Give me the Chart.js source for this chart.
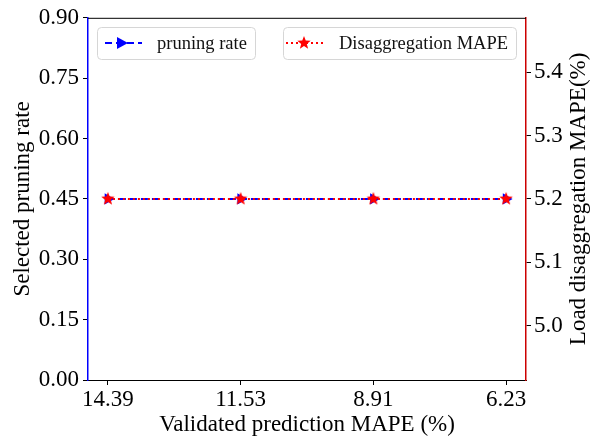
<!DOCTYPE html>
<html>
<head>
<meta charset="utf-8">
<script src="https://cdn.jsdelivr.net/npm/chart.js@4"></script>
<style>
  html, body { margin: 0; padding: 0; background: #fff; }
  #wrap { width: 593px; height: 438px; }
</style>
</head>
<body>
<div id="wrap"><canvas id="c"></canvas></div>
<script>
// data
var xLabels = ['14.39', '11.53', '8.91', '6.23'];
var pruningRate = [0.45, 0.45, 0.45, 0.45];
var disaggMape = [5.2, 5.2, 5.2, 5.2];
var leftTicks = [0, 0.15, 0.30, 0.45, 0.60, 0.75, 0.90];
var rightTicks = [5.0, 5.1, 5.2, 5.3, 5.4];

var FONT = '"Liberation Serif", "Times New Roman", serif';
var TICK = 23, TITLE = 23, LEG = 18.5;

// filled star marker
function makeStar(r, color) {
    var c = document.createElement('canvas');
    c.width = c.height = r * 2 + 2;
    var g = c.getContext('2d');
    g.fillStyle = color;
    g.beginPath();
    for (var i = 0; i < 10; i++) {
        var rad = i % 2 === 0 ? r : r * 0.42;
        var a = -Math.PI / 2 + i * Math.PI / 5;
        var x = r + 1 + rad * Math.cos(a), y = r + 1 + rad * Math.sin(a);
        if (i === 0) g.moveTo(x, y); else g.lineTo(x, y);
    }
    g.closePath();
    g.fill();
    return c;
}
var star = makeStar(7, '#ff0000');

function pts(arr) {
    return arr.map(function(v, i) { return {x: i, y: v}; });
}

var frame = {
    id: 'frame',
    afterDraw: function(chart) {
        var ctx = chart.ctx, a = chart.chartArea;
        ctx.save();
        ctx.strokeStyle = '#000';
        ctx.lineWidth = 1;
        ctx.beginPath();
        ctx.moveTo(a.left, a.top + 0.5);
        ctx.lineTo(a.right, a.top + 0.5);
        ctx.stroke();

        // axis titles
        ctx.fillStyle = '#000';
        ctx.font = TITLE + 'px ' + FONT;
        ctx.textAlign = 'center';
        ctx.textBaseline = 'middle';
        ctx.fillText('Validated prediction MAPE (%)', (a.left + a.right) / 2, 425);
        ctx.save();
        ctx.translate(23, (a.top + a.bottom) / 2);
        ctx.rotate(-Math.PI / 2);
        ctx.fillText('Selected pruning rate', 0, 0);
        ctx.restore();
        ctx.save();
        ctx.translate(579, (a.top + a.bottom) / 2);
        ctx.rotate(-Math.PI / 2);
        ctx.fillText('Load disaggregation MAPE(%)', 0, 0);
        ctx.restore();

        // two legend boxes
        function box(x, y, w, h) {
            ctx.beginPath();
            ctx.lineWidth = 1;
            ctx.strokeStyle = '#d6d6d6';
            ctx.fillStyle = 'rgba(255,255,255,0.8)';
            ctx.roundRect(x + 0.5, y + 0.5, w, h, 4);
            ctx.fill();
            ctx.stroke();
        }
        ctx.font = LEG + 'px ' + FONT;
        ctx.textAlign = 'left';

        box(97, 27, 158, 32);
        ctx.strokeStyle = '#0000ff';
        ctx.lineWidth = 2;
        ctx.setLineDash([7, 4]);
        ctx.beginPath(); ctx.moveTo(105, 43); ctx.lineTo(142, 43); ctx.stroke();
        ctx.setLineDash([]);
        ctx.fillStyle = '#0000ff';
        ctx.beginPath(); ctx.moveTo(117, 37); ctx.lineTo(117, 49); ctx.lineTo(128, 43); ctx.closePath(); ctx.fill();
        ctx.fillStyle = '#111';
        ctx.fillText('pruning rate', 157, 44);

        box(283, 27, 233, 32);
        ctx.strokeStyle = '#ff0000';
        ctx.lineWidth = 2;
        ctx.setLineDash([2, 3]);
        ctx.beginPath(); ctx.moveTo(286, 43); ctx.lineTo(323, 43); ctx.stroke();
        ctx.setLineDash([]);
        ctx.drawImage(star, 304 - 8, 43 - 8);
        ctx.fillStyle = '#111';
        ctx.fillText('Disaggregation MAPE', 339, 44);
        ctx.restore();
    }
};

new Chart(document.getElementById('c'), {
    type: 'line',
    data: {
        datasets: [{
            label: 'pruning rate',
            data: pts(pruningRate),
            yAxisID: 'y',
            borderColor: '#0000ff',
            backgroundColor: '#0000ff',
            borderWidth: 2,
            borderDash: [7, 4],
            pointStyle: 'triangle',
            rotation: 90,
            pointRadius: 6.5,
            pointBorderWidth: 0,
            order: 2
        }, {
            label: 'Disaggregation MAPE',
            data: pts(disaggMape),
            yAxisID: 'y1',
            borderColor: '#ff0000',
            backgroundColor: '#ff0000',
            borderWidth: 2,
            borderDash: [2, 3],
            pointStyle: star,
            order: 1
        }]
    },
    options: {
        responsive: true,
        maintainAspectRatio: false,
        animation: false,
        layout: { padding: { top: 16, left: 0, right: 0, bottom: 0 } },
        plugins: { legend: { display: false }, tooltip: { enabled: false } },
        scales: {
            x: {
                type: 'linear',
                min: -0.15,
                max: 3.15,
                afterBuildTicks: function(s) { s.ticks = xLabels.map(function(l, i) { return {value: i}; }); },
                afterFit: function(s) { s.height = 58; },
                ticks: {
                    color: '#000',
                    font: { family: FONT, size: TICK },
                    padding: 1,
                    maxRotation: 0,
                    callback: function(v) { return xLabels[v]; }
                },
                grid: { drawOnChartArea: false, tickLength: 5, color: '#000' },
                border: { color: '#000', width: 1 }
            },
            y: {
                position: 'left',
                min: 0,
                max: 0.9,
                afterBuildTicks: function(s) { s.ticks = leftTicks.map(function(v) { return {value: v}; }); },
                afterFit: function(s) { s.width = 88; },
                ticks: {
                    color: '#000',
                    font: { family: FONT, size: TICK },
                    padding: 4,
                    callback: function(v) { return v.toFixed(2); }
                },
                grid: { drawOnChartArea: false, tickLength: 5, color: '#000' },
                border: { color: '#0000ff', width: 1.5 }
            },
            y1: {
                position: 'right',
                min: 4.914,
                max: 5.486,
                afterBuildTicks: function(s) { s.ticks = rightTicks.map(function(v) { return {value: v}; }); },
                afterFit: function(s) { s.width = 67; },
                ticks: {
                    color: '#000',
                    font: { family: FONT, size: TICK },
                    padding: 3,
                    callback: function(v) { return v.toFixed(1); }
                },
                grid: { drawOnChartArea: false, tickLength: 5, color: '#000' },
                border: { color: '#cc0000', width: 1.5 }
            }
        }
    },
    plugins: [frame]
});
</script>
</body>
</html>
